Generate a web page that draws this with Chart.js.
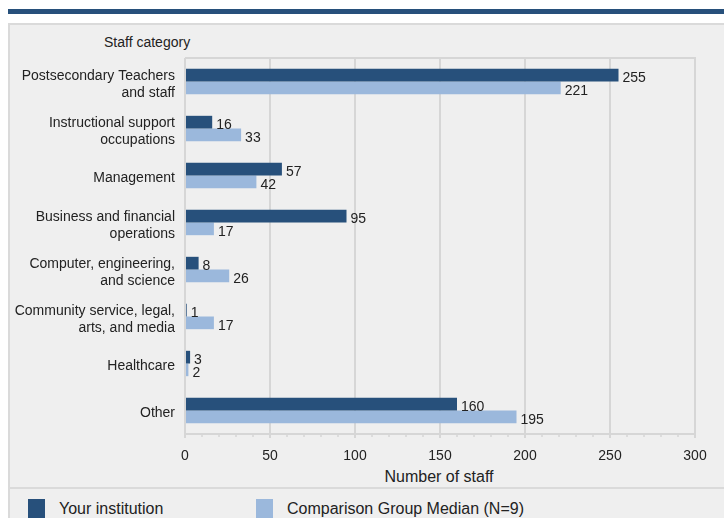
<!DOCTYPE html>
<html>
<head>
<meta charset="utf-8">
<script src="https://cdn.jsdelivr.net/npm/chart.js@4"></script>
<style>
  html, body { margin: 0; padding: 0; background: #fff; width: 724px; height: 518px; overflow: hidden; }
  body { position: relative; font-family: "Liberation Sans", Arial, sans-serif; color: #222; }
  .topbar { position: absolute; left: 8px; top: 9px; width: 716px; height: 5px; background: #27507b; }
  .panel { position: absolute; left: 8px; top: 23px; width: 716px; height: 495px; background: #efefef;
           border-top: 2px solid #dadada; border-left: 2px solid #dadada; box-sizing: border-box; }
  .divider { position: absolute; left: 8px; top: 487px; width: 716px; height: 2px; background: #dadada; }
  canvas { position: absolute; left: 0; top: 0; }
  .ytitle { position: absolute; left: 104px; top: 34px; font-size: 14px; }
  .xtitle { position: absolute; left: 439px; top: 468px; transform: translateX(-50%);
            font-size: 16px; white-space: nowrap; }
  .legend { position: absolute; top: 499px; left: 0; font-size: 16px; white-space: nowrap; }
  .legend span.box { position: absolute; top: 0; width: 17px; height: 19px; }
  .legend span.txt { position: absolute; top: 1px; }
</style>
</head>
<body>
<div class="topbar"></div>
<div class="panel"></div>
<div class="divider"></div>
<div class="ytitle">Staff category</div>
<div class="xtitle">Number of staff</div>
<div class="legend">
  <span class="box" style="left:28px;background:#27507b"></span>
  <span class="txt" style="left:59px">Your institution</span>
  <span class="box" style="left:256px;background:#9bb8dc"></span>
  <span class="txt" style="left:287px">Comparison Group Median (N=9)</span>
</div>
<canvas id="chart" width="724" height="518"></canvas>
<script>
// categories and values
const categories = [
  ["Postsecondary Teachers", "and staff"],
  ["Instructional support", "occupations"],
  ["Management"],
  ["Business and financial", "operations"],
  ["Computer, engineering,", "and science"],
  ["Community service, legal,", "arts, and media"],
  ["Healthcare"],
  ["Other"]
];
const yourInstitution = [255, 16, 57, 95, 8, 1, 3, 160];
const comparisonMedian = [221, 33, 42, 17, 26, 17, 2, 195];
const xTicks = [0, 50, 100, 150, 200, 250, 300];

const DARK = "#27507b";
const LIGHT = "#9bb8dc";
const GRID = "#d6d6d6";

/* ---------- plot frame + minor ticks ---------- */
const framePlugin = {
  id: "frame",
  beforeDatasetsDraw(chart) {
    const { ctx, chartArea: a, scales } = chart;
    ctx.save();
    ctx.strokeStyle = GRID;
    ctx.lineWidth = 2;
    ctx.beginPath();
    ctx.moveTo(a.left, a.top);
    ctx.lineTo(a.right + 1, a.top);
    ctx.stroke();
    // minor ticks every 10 below the axis
    ctx.lineWidth = 1.5;
    for (let v = 10; v < 300; v += 10) {
      if (v % 50 === 0) continue;
      const x = scales.x.getPixelForValue(v);
      ctx.beginPath();
      ctx.moveTo(x, a.bottom);
      ctx.lineTo(x, a.bottom + 3);
      ctx.stroke();
    }
    ctx.restore();
  }
};

/* ---------- value labels ---------- */
const valuePlugin = {
  id: "values",
  afterDatasetsDraw(chart) {
    const { ctx } = chart;
    ctx.save();
    ctx.font = "14px 'Liberation Sans', Arial, sans-serif";
    ctx.fillStyle = "#222";
    ctx.textAlign = "left";
    ctx.textBaseline = "middle";
    chart.data.datasets.forEach((ds, i) => {
      chart.getDatasetMeta(i).data.forEach((bar, j) => {
        ctx.fillText(String(ds.data[j]), bar.x + 4, bar.y + 3);
      });
    });
    ctx.restore();
  }
};

new Chart(document.getElementById("chart").getContext("2d"), {
  type: "bar",
  data: {
    labels: categories,
    datasets: [
      { label: "Your institution", data: yourInstitution, backgroundColor: DARK },
      { label: "Comparison Group Median (N=9)", data: comparisonMedian, backgroundColor: LIGHT }
    ]
  },
  options: {
    indexAxis: "y",
    responsive: false,
    animation: false,
    devicePixelRatio: 1,
    categoryPercentage: 0.54,
    barPercentage: 1.0,
    layout: { padding: { top: 58, right: 29, left: 0, bottom: 0 } },
    plugins: { legend: { display: false }, tooltip: { enabled: false } },
    scales: {
      x: {
        min: 0,
        max: 300,
        afterBuildTicks(s) { s.ticks = xTicks.map((v) => ({ value: v })); },
        afterFit(s) { s.height = 84; },
        grid: { color: GRID, lineWidth: 2, tickLength: 4, tickColor: GRID },
        border: { color: GRID, width: 2 },
        ticks: {
          color: "#222",
          padding: 10,
          font: { family: "'Liberation Sans', Arial, sans-serif", size: 14 }
        }
      },
      y: {
        afterFit(s) { s.width = 185; },
        grid: { display: false, drawTicks: false },
        border: { display: false },
        ticks: {
          color: "#222",
          padding: 10,
          labelOffset: 3,
          font: { family: "'Liberation Sans', Arial, sans-serif", size: 14, lineHeight: 1.22 }
        }
      }
    }
  },
  plugins: [framePlugin, valuePlugin]
});
</script>
</body>
</html>
